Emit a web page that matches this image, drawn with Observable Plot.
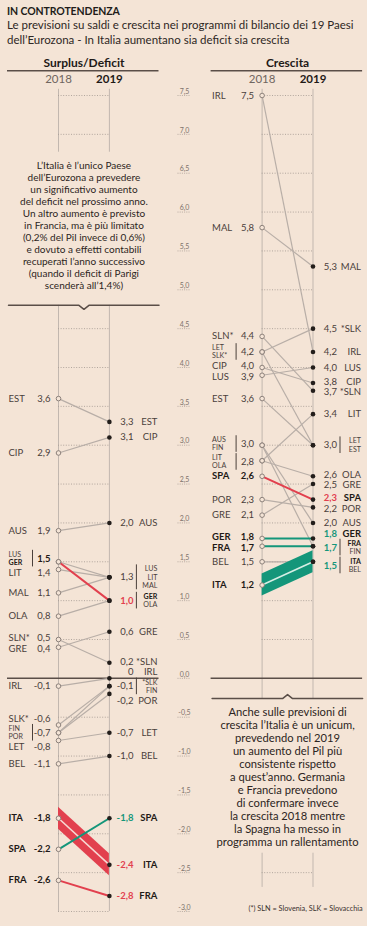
<!DOCTYPE html>
<html>
<head>
<meta charset="utf-8">
<script src="https://cdn.jsdelivr.net/npm/d3@7"></script>
<script src="https://cdn.jsdelivr.net/npm/@observablehq/plot@0.6"></script>
<style>
  html, body { margin: 0; padding: 0; background: #f4e4d6; }
  body { width: 367px; height: 926px; overflow: hidden; font-family: Lato, "Noto Sans", sans-serif; color: #221c19; }
  #head { height: 50px; box-sizing: border-box; padding-left: 7px; }
  #title { font-weight: 700; font-size: 10.5px; line-height: 12px; padding-top: 5px; letter-spacing: -0.1px; }
  #sub { font-size: 11.5px; line-height: 15px; color: #2e2724; }
  #chart svg { display: block; }
</style>
</head>
<body>
<div id="head">
  <div id="title">IN CONTROTENDENZA</div>
  <div id="sub">Le previsioni su saldi e crescita nei programmi di bilancio dei 19 Paesi<br>dell’Eurozona - In Italia aumentano sia deficit sia crescita</div>
</div>
<div id="chart"></div>
<script>
// ---------------- DATA ----------------
const deficitCountries = ["EST","CIP","AUS","LUS","GER","LIT","MAL","OLA","SLN","GRE","IRL","SLK","FIN","POR","LET","BEL","ITA","SPA","FRA"];
const deficit2018 = [3.6, 2.9, 1.9, 1.5, 1.5, 1.4, 1.1, 0.8, 0.5, 0.4, -0.1, -0.6, -0.7, -0.7, -0.8, -1.1, -1.8, -2.2, -2.6];
const deficit2019 = [3.3, 3.1, 2.0, 1.3, 1.0, 1.3, 1.3, 1.0, 0.2, 0.6, 0, -0.1, -0.1, -0.2, -0.7, -1.0, -2.4, -1.8, -2.8];

const growthCountries = ["IRL","MAL","SLN","LET","SLK","CIP","LUS","EST","AUS","FRA","FIN","LIT","OLA","SPA","POR","GRE","GER","ITA","BEL"];
const growth2018 = [7.5, 5.8, 4.4, 4.2, 4.2, 4.0, 3.9, 3.6, 3.0, 1.7, 3.0, 2.8, 2.8, 2.6, 2.3, 2.1, 1.8, 1.2, 1.5];
const growth2019 = [4.2, 5.3, 3.7, 3.0, 4.5, 3.8, 4.0, 3.0, 2.0, 1.7, 1.7, 3.4, 2.6, 2.3, 2.2, 2.5, 1.8, 1.5, 1.5];

const years = [2018, 2019];
const yTicks = [7.5, 7.0, 6.5, 6.0, 5.5, 5.0, 4.5, 4.0, 3.5, 3.0, 2.5, 2.0, 1.5, 1.0, 0.5, 0.0, -0.5, -1.0, -1.5, -2.0, -2.5, -3.0];
const starred = ["SLN", "SLK"];

const deficitNote = "L’Italia è l’unico Paese\ndell’Eurozona a prevedere\nun significativo aumento\ndel deficit nel prossimo anno.\nUn altro aumento è previsto\nin Francia, ma è più limitato\n(0,2% del Pil invece di 0,6%)\ne dovuto a effetti contabili\nrecuperati l’anno successivo\n(quando il deficit di Parigi\nscenderà all’1,4%)";
const growthNote = "Anche sulle previsioni di\ncrescita l’Italia è un unicum,\nprevedendo nel 2019\nun aumento del Pil più\nconsistente rispetto\na quest’anno. Germania\ne Francia prevedono\ndi confermare invece\nla crescita 2018 mentre\nla Spagna ha messo in\nprogramma un rallentamento";
const footnote = "(*) SLN = Slovenia, SLK = Slovacchia";

// ---------------- STYLE ----------------
const BG = "#f4e4d6", INK = "#1f1a17", TXT = "#4a403b", GRAYTXT = "#6f6660";
const RED = "#e2404e", GREEN = "#14967a";
const LINK = "#b8aea7", COLLINE = "#c2b7af", GRID = "#a99e96", DARK = "#5a4e48";
const deficitHighlight = {GER: "red", ITA: "redBand", SPA: "green", FRA: "red"};
const growthHighlight = {SPA: "red", GER: "green", FRA: "green", ITA: "greenBand"};
const hlColor = k => (k === "red" || k === "redBand") ? RED : GREEN;
const bandCenter = k => k === "redBand" ? "#f7d9d3" : "#d5eee4";

// ---------------- SCALES ----------------
const xOpts = {domain: [2018, 2023], range: [58, 312.5]};
const yOpts = {domain: [-3, 7.5], range: [861, 45]};
const xs = Plot.scale({x: xOpts});
const ys = Plot.scale({y: yOpts});
const xOff = (x, px) => xs.invert(xs.apply(x) + px);
const yUnit = ys.apply(0) - ys.apply(1);

const fmt = v => v === 0 ? "0" : v.toFixed(1).replace(".", ",");
const tickFmt = v => v.toFixed(1).replace(".", ",");
const nameLabel = (n, year) => starred.includes(n) ? (year === 2018 ? n + "*" : "*" + n) : n;

const panels = [
  {key: "deficit", title: "Surplus/Deficit", shift: 0, countries: deficitCountries, v18: deficit2018, v19: deficit2019, hl: deficitHighlight,
   segments: [[7.58, 6.77], [4.8, -3.0]], grid: yTicks.filter(v => (v >= 7 || v <= 4.5) && v !== 0),
   caret: {y: 4.8, dir: -1}, note: deficitNote, noteY: 5.83, noteSize: 10, noteLH: 1.2},
  {key: "growth", title: "Crescita", shift: 4, countries: growthCountries, v18: growth2018, v19: growth2019, hl: growthHighlight,
   segments: [[7.58, -0.26], [-2.25, -2.69]], grid: yTicks.filter(v => v >= 0.5 || v === -2.5),
   caret: {y: -0.26, dir: 1}, note: growthNote, noteY: -1.27, noteSize: 11.2, noteLH: 1.16}
];

// label collision avoidance (pixel space)
function dodge(items, gap) {
  const place = c => {
    let off = 0; const offs = [];
    for (const it of c.items) { offs.push(off + it.h / 2); off += it.h + gap; }
    c.h = off - gap; c.offs = offs;
    c.top = d3.mean(c.items, (it, k) => it.px - offs[k]);
  };
  let clusters = items.map(it => ({items: [it]}));
  clusters.forEach(place);
  let merged = true;
  while (merged) {
    merged = false;
    for (let i = 0; i < clusters.length - 1; i++) {
      const a = clusters[i], b = clusters[i + 1];
      if (a.top + a.h + gap > b.top) {
        const c = {items: a.items.concat(b.items)};
        place(c);
        clusters.splice(i, 2, c);
        merged = true;
        break;
      }
    }
  }
  for (const c of clusters) c.items.forEach((it, k) => { it.y = c.top + c.offs[k]; });
}

const LH = 8.3, SMALL = 7.1, SINGLE_H = 10;
function buildLabels(p) {
  const texts = [], bars = [];
  for (const year of years) {
    const vals = year === 2018 ? p.v18 : p.v19;
    const col = year + p.shift;
    const groups = d3.groups(d3.range(p.countries.length), i => vals[i])
      .map(([v, idx]) => ({v, names: idx.map(i => p.countries[i]), px: ys.apply(v)}));
    groups.sort((a, b) => a.px - b.px);
    for (const g of groups) g.h = g.names.length === 1 ? SINGLE_H : g.names.length * LH + 1;
    dodge(groups, 0.3);
    for (const g of groups) {
      const n = g.names.length;
      const hlName = g.names.find(nm => p.hl[nm]);
      const hl = !!hlName;
      texts.push({
        x: xOff(col, year === 2018 ? -8 : 24), y: ys.invert(g.y), text: fmt(g.v),
        anchor: "end", bold: hl, size: 9.5,
        fill: hl ? (year === 2019 ? hlColor(p.hl[hlName]) : INK) : TXT
      });
      g.names.forEach((nm, i) => {
        const py = g.y + (i - (n - 1) / 2) * LH;
        texts.push({
          x: xOff(col, year === 2018 ? -50 : 48), y: ys.invert(py), text: nameLabel(nm, year),
          anchor: year === 2018 ? "start" : "end", bold: !!p.hl[nm], size: n === 1 ? 9.5 : SMALL,
          fill: p.hl[nm] ? INK : TXT
        });
      });
      if (n > 1) {
        bars.push({x: xOff(col, year === 2018 ? -26 : 27), y1: ys.invert(g.y - n * LH / 2), y2: ys.invert(g.y + n * LH / 2)});
      }
    }
  }
  return {texts, bars};
}

// ---------------- MARKS ----------------
const marks = [];
const axisX = xOff(2018, 126);

// central axis labels with dotted underline
marks.push(Plot.ruleY(yTicks, {x1: xOff(axisX, -6.5), x2: xOff(axisX, 6.5), stroke: GRID, strokeDasharray: "1,1.2", strokeWidth: 0.8}));
marks.push(Plot.text(yTicks, {x: axisX, y: d => d, text: tickFmt, dy: -4, fontSize: 7, fill: "#7d726b"}));

for (const p of panels) {
  const c18 = 2018 + p.shift, c19 = 2019 + p.shift, mid = 2018.5 + p.shift;
  const e0 = xOff(c18, -51), e1 = xOff(c18, 100.5);
  const data = p.countries.map((c, i) => ({c, v18: p.v18[i], v19: p.v19[i], hl: p.hl[c]}));

  // headers
  marks.push(Plot.text([p.title], {x: mid, y: 7.91, text: d => d, fontSize: 12, fontWeight: 700, fill: INK}));
  marks.push(Plot.ruleY([7.82], {x1: e0, x2: e1, stroke: DARK, strokeWidth: 1.5}));
  marks.push(Plot.text(["2018"], {x: c18, y: 7.71, text: d => d, fontSize: 11.5, fill: GRAYTXT}));
  marks.push(Plot.text(["2019"], {x: c19, y: 7.71, text: d => d, fontSize: 11.5, fontWeight: 700, fill: INK}));

  // column lines & grid
  marks.push(Plot.ruleX(p.segments.flatMap(([a, b]) => years.map(yr => ({x: yr + p.shift, y1: a, y2: b}))),
    {x: "x", y1: "y1", y2: "y2", stroke: COLLINE, strokeWidth: 1}));
  marks.push(Plot.ruleY(p.grid, {x1: c18, x2: c19, stroke: GRID, strokeDasharray: "1,1.6", strokeWidth: 0.9}));
  marks.push(Plot.ruleY([0], {x1: e0, x2: e1, stroke: DARK, strokeWidth: 1.5}));

  // caret divider
  const cw = xOff(mid, 5) - mid, cd = 4 / yUnit;
  marks.push(Plot.line([
    {x: xOff(c18, -50), y: p.caret.y}, {x: mid - cw, y: p.caret.y}, {x: mid, y: p.caret.y + p.caret.dir * cd},
    {x: mid + cw, y: p.caret.y}, {x: e1, y: p.caret.y}
  ], {x: "x", y: "y", stroke: DARK, strokeWidth: 1.5, curve: "linear"}));

  // annotation
  marks.push(Plot.text([p.note], {x: mid, y: p.noteY, text: d => d, fontSize: p.noteSize, lineHeight: p.noteLH, textAnchor: "middle", fill: "#2c2522"}));

  // normal slope lines
  marks.push(Plot.link(data.filter(d => !d.hl), {x1: c18, x2: c19, y1: "v18", y2: "v19", stroke: LINK, strokeWidth: 1.2}));

  // bands
  const hb = 11 / yUnit;
  for (const d of data.filter(d => d.hl && d.hl.endsWith("Band"))) {
    marks.push(Plot.area([{x: c18, v: d.v18}, {x: c19, v: d.v19}], {x1: "x", y1: e => e.v - hb, y2: e => e.v + hb, fill: hlColor(d.hl), curve: "linear"}));
    marks.push(Plot.link([d], {x1: c18, x2: c19, y1: "v18", y2: "v19", stroke: bandCenter(d.hl), strokeWidth: 1.6}));
  }
  // highlighted thin lines
  for (const d of data.filter(d => d.hl && !d.hl.endsWith("Band"))) {
    marks.push(Plot.link([d], {x1: c18, x2: c19, y1: "v18", y2: "v19", stroke: hlColor(d.hl), strokeWidth: 2}));
  }

  // dots
  marks.push(Plot.dot(data, {x: c18, y: "v18", r: 2.3, stroke: "#8b807a", fill: BG, strokeWidth: 1}));
  marks.push(Plot.dot(data, {x: c19, y: "v19", r: 2.3, fill: "#231e1b", stroke: "none"}));

  // labels
  const {texts, bars} = buildLabels(p);
  marks.push(Plot.ruleX(bars, {x: "x", y1: "y1", y2: "y2", stroke: "#4a403b", strokeWidth: 1}));
  for (const anchor of ["start", "end"]) for (const bold of [false, true]) {
    marks.push(Plot.text(texts.filter(t => t.anchor === anchor && t.bold === bold),
      {x: "x", y: "y", text: "text", fill: "fill", fontSize: "size", textAnchor: anchor, fontWeight: bold ? 700 : 400}));
  }
}

// footnote
marks.push(Plot.text([footnote], {x: xOff(2022, 100.5), y: -3.0, dy: -2.5, text: d => d, textAnchor: "end", fontSize: 7.3, fill: "#3a322e"}));

const chart = Plot.plot({
  width: 367, height: 876, margin: 0,
  x: {...xOpts, axis: null},
  y: {...yOpts, axis: null},
  color: {type: "identity"},
  style: {background: "transparent", fontFamily: "Lato, 'Noto Sans', sans-serif", overflow: "visible"},
  marks
});
document.getElementById("chart").append(chart);
</script>
</body>
</html>
